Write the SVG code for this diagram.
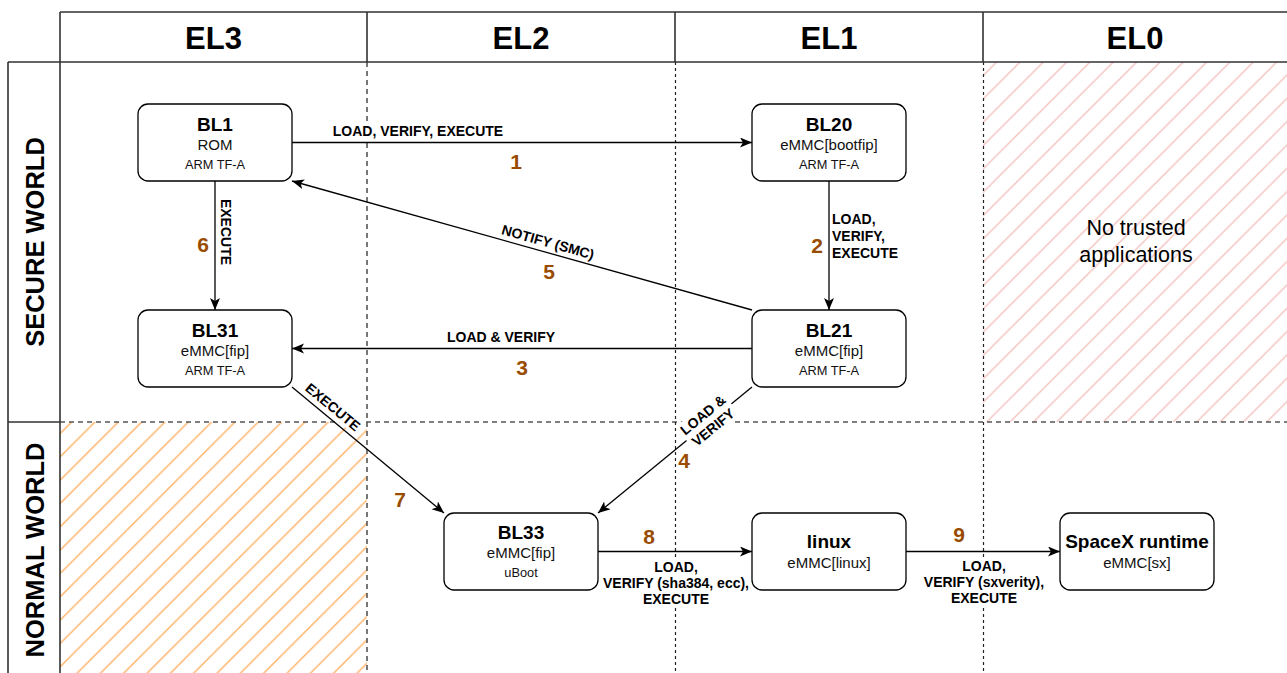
<svg xmlns="http://www.w3.org/2000/svg" width="1287" height="673" viewBox="0 0 1287 673">
<style>
text{font-family:"Liberation Sans",Arial,Helvetica,sans-serif;}
.frame{stroke:#333;stroke-width:1.6;fill:none;}
.dg{stroke:#555;stroke-width:1.6;stroke-dasharray:5 4;fill:none;}
.dk{stroke:#222;stroke-width:1.2;stroke-dasharray:3 3;fill:none;}
.hdr{font-size:31px;font-weight:bold;text-anchor:middle;fill:#000;}
.side{font-size:25.5px;font-weight:bold;text-anchor:middle;fill:#000;}
.node{fill:#fff;stroke:#000;stroke-width:1.3;}
.t1{font-size:19px;font-weight:bold;text-anchor:middle;fill:#000;}
.t2{font-size:15px;text-anchor:middle;fill:#111;}
.t3{font-size:12.8px;text-anchor:middle;fill:#111;}
.edge{stroke:#000;stroke-width:1.3;fill:none;marker-end:url(#arr);}
.lbl{font-size:14px;font-weight:bold;fill:#000;}
.c{text-anchor:middle;}
.bg{fill:#fff;}
.num{font-size:21px;font-weight:bold;fill:#994C00;text-anchor:middle;}
.note{font-size:21.5px;text-anchor:middle;fill:#000;}
</style>
<defs>
<marker id="arr" markerUnits="userSpaceOnUse" markerWidth="13" markerHeight="11" refX="12" refY="5" orient="auto">
<path d="M0,0 L12,5 L0,10 L3,5 Z" fill="#000"/>
</marker>
<pattern id="hatchPink" patternUnits="userSpaceOnUse" x="8.9" y="0" width="23.33" height="23.33">
<path d="M0,23.33 L23.33,0 M-2,2 L2,-2 M21.33,25.33 L25.33,21.33" stroke="#f4c3c0" stroke-width="1.4"/>
</pattern>
<pattern id="hatchOrange" patternUnits="userSpaceOnUse" x="3.7" y="0" width="23.33" height="23.33">
<path d="M0,23.33 L23.33,0 M-2,2 L2,-2 M21.33,25.33 L25.33,21.33" stroke="#ffb266" stroke-width="1.4"/>
</pattern>
</defs>
<rect width="1287" height="673" fill="#fff"/>
<g id="background">
<rect x="983" y="62" width="304" height="360" fill="url(#hatchPink)"/>
<rect x="60" y="422" width="307" height="251" fill="url(#hatchOrange)"/>
<line class="dg" x1="60" y1="422" x2="1287" y2="422"/>
<line class="dg" x1="367" y1="62" x2="367" y2="673"/>
<line class="dk" x1="675.5" y1="62" x2="675.5" y2="673"/>
<line class="dk" x1="983.5" y1="62" x2="983.5" y2="673"/>
<path class="frame" d="M60,12 H1287 M8,62 H1287 M60,12 V673 M8,62 V673 M8,422 H60 M367,12 V62 M675,12 V62 M983,12 V62"/>
<text class="hdr" x="213.5" y="49">EL3</text>
<text class="hdr" x="521" y="49">EL2</text>
<text class="hdr" x="829" y="49">EL1</text>
<text class="hdr" x="1135" y="49">EL0</text>
<text class="side" transform="translate(44,242) rotate(-90)">SECURE WORLD</text>
<text class="side" transform="translate(44,550) rotate(-90)">NORMAL WORLD</text>
<text class="note" x="1136" y="235">No trusted</text>
<text class="note" x="1136" y="262">applications</text>
</g>
<g id="connectors">
<path class="edge" d="M292,142.5 H752"/>
<path class="edge" d="M829,181 V310"/>
<path class="edge" d="M752,348.5 H292"/>
<path class="edge" d="M752,387 L598,513"/>
<path class="edge" d="M752,310 L292,181"/>
<path class="edge" d="M215,181 V310"/>
<path class="edge" d="M292,387 L444,513"/>
<path class="edge" d="M598,551.5 H752"/>
<path class="edge" d="M906,551.5 H1060"/>
</g>
<g id="node-bl1">
<rect class="node" x="138" y="104" width="154" height="77" rx="10"/>
<text class="t1" x="215" y="131">BL1</text>
<text class="t2" x="215" y="150">ROM</text>
<text class="t3" x="215" y="169">ARM TF-A</text>
</g>
<g id="node-bl20">
<rect class="node" x="752" y="104" width="154" height="77" rx="10"/>
<text class="t1" x="829" y="131">BL20</text>
<text class="t2" x="829" y="150">eMMC[bootfip]</text>
<text class="t3" x="829" y="169">ARM TF-A</text>
</g>
<g id="node-bl31">
<rect class="node" x="138" y="310" width="154" height="77" rx="10"/>
<text class="t1" x="215" y="337">BL31</text>
<text class="t2" x="215" y="356">eMMC[fip]</text>
<text class="t3" x="215" y="375">ARM TF-A</text>
</g>
<g id="node-bl21">
<rect class="node" x="752" y="310" width="154" height="77" rx="10"/>
<text class="t1" x="829" y="337">BL21</text>
<text class="t2" x="829" y="356">eMMC[fip]</text>
<text class="t3" x="829" y="375">ARM TF-A</text>
</g>
<g id="node-bl33">
<rect class="node" x="444" y="513" width="154" height="77" rx="10"/>
<text class="t1" x="521" y="539">BL33</text>
<text class="t2" x="521" y="558">eMMC[fip]</text>
<text class="t3" x="521" y="577">uBoot</text>
</g>
<g id="node-linux">
<rect class="node" x="752" y="513" width="154" height="77" rx="10"/>
<text class="t1" x="829" y="548">linux</text>
<text class="t2" x="829" y="568">eMMC[linux]</text>
</g>
<g id="node-spacex">
<rect class="node" x="1060" y="513" width="154" height="77" rx="10"/>
<text class="t1" x="1137" y="548">SpaceX runtime</text>
<text class="t2" x="1137" y="568">eMMC[sx]</text>
</g>
<g id="labels">
<rect class="bg" x="331" y="124" width="174" height="16"/>
<text class="lbl c" x="418" y="136">LOAD, VERIFY, EXECUTE</text>
<rect class="bg" x="831" y="211" width="68" height="51"/>
<text class="lbl" x="832" y="224">LOAD,</text>
<text class="lbl" x="832" y="241">VERIFY,</text>
<text class="lbl" x="832" y="258">EXECUTE</text>
<rect class="bg" x="446" y="330" width="110" height="16"/>
<text class="lbl c" x="501" y="342">LOAD &amp; VERIFY</text>
<g transform="translate(708,421) rotate(-39.3)">
<rect class="bg" x="-29" y="-16" width="58" height="32"/>
<text class="lbl c" x="0" y="-3">LOAD &amp;</text>
<text class="lbl c" x="0" y="13">VERIFY</text>
</g>
<g transform="translate(548,242) rotate(15.6)">
<rect class="bg" x="-49" y="-8" width="98" height="16"/>
<text class="lbl c" x="0" y="5">NOTIFY (SMC)</text>
</g>
<g transform="translate(226,232) rotate(90)">
<rect class="bg" x="-34" y="-8" width="68" height="16"/>
<text class="lbl c" x="0" y="5">EXECUTE</text>
</g>
<g transform="translate(333,407) rotate(39.7)">
<rect class="bg" x="-34" y="-8" width="68" height="16"/>
<text class="lbl c" x="0" y="5">EXECUTE</text>
</g>
<rect class="bg" x="602" y="560" width="148" height="48"/>
<text class="lbl c" x="676" y="572">LOAD,</text>
<text class="lbl c" x="676" y="588">VERIFY (sha384, ecc),</text>
<text class="lbl c" x="676" y="604">EXECUTE</text>
<rect class="bg" x="923" y="559" width="122" height="48"/>
<text class="lbl c" x="984" y="571">LOAD,</text>
<text class="lbl c" x="984" y="587">VERIFY (sxverity),</text>
<text class="lbl c" x="984" y="603">EXECUTE</text>
</g>
<g id="numbers">
<text class="num" x="516" y="169">1</text>
<text class="num" x="817" y="253">2</text>
<text class="num" x="522" y="375">3</text>
<text class="num" x="684" y="468">4</text>
<text class="num" x="549" y="279">5</text>
<text class="num" x="203" y="252">6</text>
<text class="num" x="400" y="507">7</text>
<text class="num" x="649" y="544">8</text>
<text class="num" x="959" y="542">9</text>
</g>
</svg>
